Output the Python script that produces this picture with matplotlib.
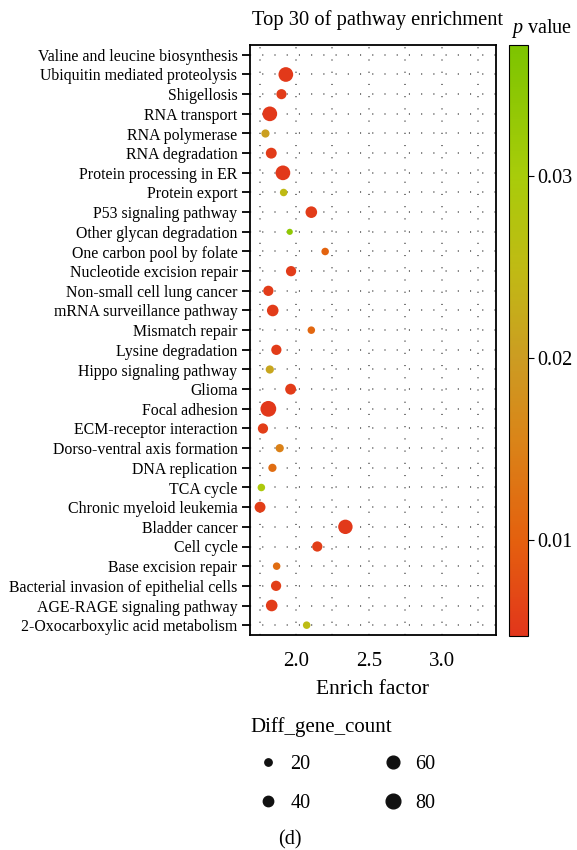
import numpy as np
import matplotlib
matplotlib.use("Agg")
import matplotlib.pyplot as plt
from matplotlib.colors import LinearSegmentedColormap, Normalize
from matplotlib.lines import Line2D

plt.rcParams['font.family'] = ['Liberation Serif', 'DejaVu Serif']
plt.rcParams['mathtext.fontset'] = 'custom'
plt.rcParams['mathtext.it'] = 'Liberation Serif:italic'
plt.rcParams['mathtext.rm'] = 'Liberation Serif'
plt.rcParams['lines.scale_dashes'] = False

# pathways, top to bottom
pathways = [
    "Valine and leucine biosynthesis", "Ubiquitin mediated proteolysis", "Shigellosis",
    "RNA transport", "RNA polymerase", "RNA degradation", "Protein processing in ER",
    "Protein export", "P53 signaling pathway", "Other glycan degradation",
    "One carbon pool by folate", "Nucleotide excision repair", "Non-small cell lung cancer",
    "mRNA surveillance pathway", "Mismatch repair", "Lysine degradation",
    "Hippo signaling pathway", "Glioma", "Focal adhesion", "ECM-receptor interaction",
    "Dorso-ventral axis formation", "DNA replication", "TCA cycle",
    "Chronic myeloid leukemia", "Bladder cancer", "Cell cycle", "Base excision repair",
    "Bacterial invasion of epithelial cells", "AGE-RAGE signaling pathway",
    "2-Oxocarboxylic acid metabolism",
]
# first pathway has no visible point in the reference
enrich_factor = [
    np.nan, 1.93, 1.90, 1.82, 1.79, 1.83, 1.91, 1.915, 2.105, 1.957,
    2.20, 1.966, 1.81, 1.84, 2.105, 1.865, 1.82, 1.963, 1.81, 1.773,
    1.888, 1.838, 1.762, 1.753, 2.339, 2.146, 1.867, 1.863, 1.833, 2.073,
]
gene_count = [
    np.nan, 80, 38, 80, 25, 44, 80, 21, 50, 14,
    21, 39, 39, 50, 21, 39, 25, 44, 92, 39,
    25, 25, 21, 44, 77, 39, 21, 39, 50, 21,
]
p_value = [
    np.nan, 0.0052, 0.0055, 0.0050, 0.0205, 0.0055, 0.0052, 0.0250, 0.0055, 0.0340,
    0.0105, 0.0055, 0.0055, 0.0055, 0.0110, 0.0055, 0.0215, 0.0055, 0.0050, 0.0058,
    0.0150, 0.0120, 0.0290, 0.0058, 0.0052, 0.0058, 0.0120, 0.0058, 0.0055, 0.0255,
]
p_limits = (0.0047, 0.0372)
x_ticks = [2.0, 2.5, 3.0]
cbar_ticks = [0.01, 0.02, 0.03]
legend_counts = [20, 40, 60, 80]

cmap = LinearSegmentedColormap.from_list("pv", [
    (0.0, '#E2361B'), (0.16, '#E4600E'), (0.33, '#DA8418'), (0.47, '#CC9C22'),
    (0.62, '#C0BA14'), (0.78, '#A8CC0A'), (1.0, '#7DC400')])
norm = Normalize(*p_limits)


def size_of(c):
    return 1.4 * np.asarray(c, dtype=float)


fig = plt.figure(figsize=(5.77, 8.5), dpi=100)
ax = fig.add_axes([250 / 577, 1 - 635 / 850, 246 / 577, 590 / 850])

n = len(pathways)
ypos = np.arange(n)[::-1]

# dotted grid
for gx in [1.75, 2.0, 2.25, 2.5, 2.75, 3.0, 3.25]:
    ax.axvline(gx, color='#555555', lw=1.1, dashes=(0.8, 8), zorder=0)
for gy in ypos:
    ax.axhline(gy, color='#555555', lw=1.1, dashes=(0.8, 8), zorder=0)

ax.scatter(enrich_factor, ypos, s=size_of(gene_count), c=p_value, cmap=cmap, norm=norm,
           linewidths=0, zorder=3)

ax.set_xlim(1.684, 3.373)
ax.set_ylim(-0.5, n - 0.5)
ax.set_yticks(ypos)
ax.set_yticklabels(pathways, fontsize=11.4)
ax.set_xticks(x_ticks)
ax.set_xticklabels([f"{t:.1f}" for t in x_ticks], fontsize=15)
ax.tick_params(axis='y', length=6, width=1.3, pad=3)
ax.tick_params(axis='x', length=0, pad=12)
for sp in ax.spines.values():
    sp.set_linewidth(1.3)
ax.set_xlabel("Enrich factor", fontsize=15.5, labelpad=7)

fig.text(378 / 577, 1 - 20 / 850, "Top 30 of pathway enrichment", fontsize=14.8,
         ha='center', va='center')

# colour bar
cax = fig.add_axes([509 / 577, 1 - 636 / 850, 19 / 577, 591 / 850])
sm = matplotlib.cm.ScalarMappable(norm=norm, cmap=cmap)
cb = fig.colorbar(sm, cax=cax, ticks=cbar_ticks)
cb.ax.set_yticklabels([f"{t:.2f}" for t in cbar_ticks], fontsize=14.5)
cb.ax.tick_params(length=4, width=0.8, pad=3)
cb.outline.set_linewidth(0.8)
fig.text(511 / 577, 1 - 28 / 850, r"$p$ value", fontsize=14.5, ha='left', va='center')

# size legend
fig.text(250 / 577, 1 - 727 / 850, "Diff_gene_count", fontsize=15, ha='left', va='center')
handles = [Line2D([], [], ls='', marker='o', color='#111111',
                  markersize=np.sqrt(size_of(c))) for c in legend_counts]
leg = fig.legend(handles, [str(c) for c in legend_counts], ncol=2, frameon=False,
                 fontsize=14.5, loc='upper left', bbox_to_anchor=(248 / 577, 1 - 745 / 850),
                 handlelength=1.0, handletextpad=0.6, columnspacing=3.6,
                 labelspacing=1.0, borderpad=0)

fig.text(290 / 577, 1 - 840 / 850, "(d)", fontsize=14.5, ha='center', va='center')

fig.savefig("out.png", dpi=100)
